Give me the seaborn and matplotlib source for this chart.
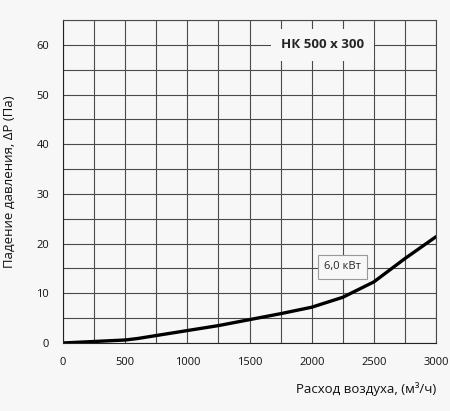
import numpy as np
import pandas as pd
import seaborn as sns
import matplotlib.pyplot as plt

# Dados
vazao = [0, 250, 500, 600, 750, 1000, 1250, 1500, 1750, 2000, 2250, 2500, 2750, 3000]
queda = [0, 0.3, 0.6, 0.9, 1.5, 2.5, 3.5, 4.7, 5.9, 7.2, 9.2, 12.3, 17.0, 21.4]
titulo = "НК 500 x 300"
potencia = "6,0 кВт"

df = pd.DataFrame({'vazao': vazao, 'queda': queda})

sns.set_style("white")
plt.rcParams['font.family'] = ['Open Sans', 'DejaVu Sans']

fig = plt.figure(figsize=(4.5, 4.11), dpi=100, facecolor='#f7f7f7')
ax = fig.add_axes([0.14, 0.1655, 0.829, 0.7855])
ax.set_facecolor('#f7f7f7')

sns.lineplot(data=df, x='vazao', y='queda', color='black', linewidth=2.4, ax=ax,
             solid_joinstyle='round', solid_capstyle='round')

ax.set_xlim(0, 3000)
ax.set_ylim(0, 65)
ax.set_xticks(np.arange(0, 3001, 500))
ax.set_yticks(np.arange(0, 61, 10))
ax.set_xticks(np.arange(0, 3001, 250), minor=True)
ax.set_yticks(np.arange(0, 66, 5), minor=True)
ax.grid(True, which='both', color='#4a4a4a', linewidth=0.8)
ax.tick_params(which='major', length=3, color='#333333', labelsize=8, pad=7, labelcolor='#111111')
ax.tick_params(which='minor', length=0)
for s in ax.spines.values():
    s.set_color('#4a4a4a')
    s.set_linewidth(0.8)
ax.spines['left'].set_color('#222222')
ax.spines['bottom'].set_color('#222222')

ax.set_xlabel("Расход воздуха, (м³/ч)", fontsize=9.5, color='#111111')
ax.xaxis.set_label_coords(1.0, -0.12)
ax.xaxis.label.set_horizontalalignment('right')
ax.set_ylabel("Падение давления, ΔР (Па)", fontsize=9.5, color='#111111')
ax.yaxis.set_label_coords(-0.125, 0.5)

ax.text(2090, 60, titulo, fontsize=9.5, fontweight='bold', ha='center', va='center',
        bbox=dict(boxstyle='square,pad=0.75', facecolor='#f7f7f7', edgecolor='none'))
ax.text(2249, 15.3, potencia, fontsize=8, ha='center', va='center',
        bbox=dict(boxstyle='square,pad=0.55', facecolor='#f7f7f7', edgecolor='#999999', linewidth=0.8))

plt.savefig('out.png', dpi=100, facecolor=fig.get_facecolor())
